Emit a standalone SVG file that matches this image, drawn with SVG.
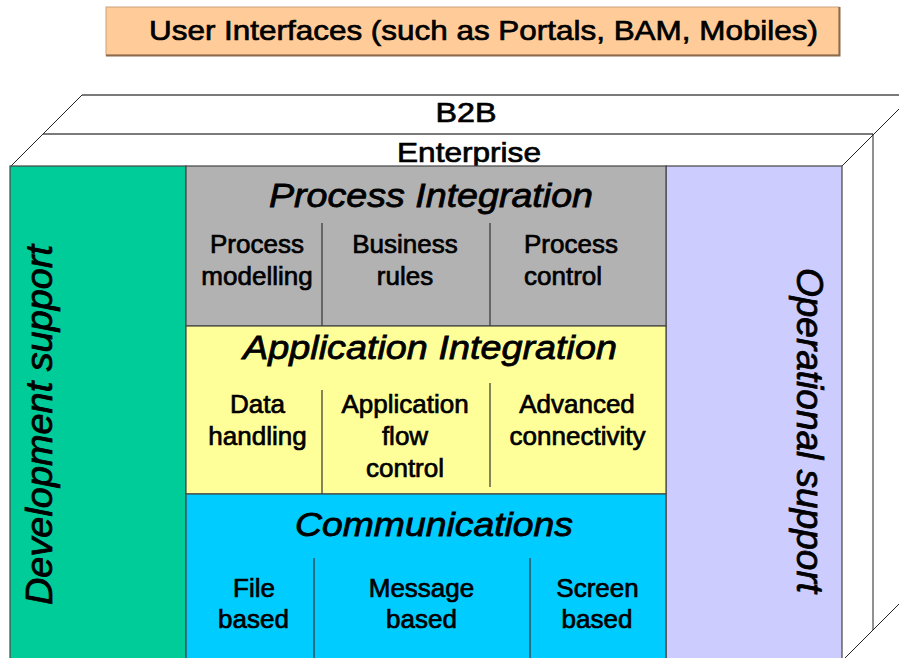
<svg xmlns="http://www.w3.org/2000/svg" width="899" height="658" viewBox="0 0 899 658">
<style>
text { font-family: "Liberation Sans", Arial, sans-serif; fill: #000; stroke: #000; stroke-width: 0.7; }
.body { font-size: 26px; text-anchor: middle; }
.title { font-size: 34px; font-style: italic; text-anchor: middle; stroke-width: 0.8; }
.side { font-size: 37px; font-style: italic; text-anchor: middle; stroke-width: 0.8; }
.hdr { font-size: 28px; text-anchor: middle; }
.edge { stroke: #7a7a7a; stroke-width: 2; fill: none; }
.thin { stroke: #222; stroke-width: 1; fill: none; }
.panel { stroke: #444; stroke-width: 1.2; }
.div { stroke: #333; stroke-width: 1.2; }
</style>

<g id="user-interfaces">
  <rect x="106" y="7" width="733" height="48" fill="#FFCC99" stroke="#C9A27C" stroke-width="1"/>
  <polyline points="106,55.5 839.5,55.5 839.5,7" fill="none" stroke="#8C6A48" stroke-width="2"/>
  <text class="hdr" x="483.5" y="40" textLength="669" lengthAdjust="spacingAndGlyphs">User Interfaces (such as Portals, BAM, Mobiles)</text>
</g>

<g id="box-3d">
  <line class="edge" x1="82" y1="95" x2="899" y2="95"/>
  <line class="edge" x1="43" y1="134" x2="873" y2="134"/>
  <line class="thin" x1="82" y1="95" x2="10" y2="167"/>
  <line class="thin" x1="842" y1="166" x2="899" y2="109"/>
  <line class="thin" x1="873" y1="134" x2="873" y2="630"/>
  <line class="thin" x1="899" y1="604" x2="845" y2="658"/>
</g>

<g id="b2b">
  <text class="hdr" x="466" y="122" textLength="61" lengthAdjust="spacingAndGlyphs">B2B</text>
</g>
<g id="enterprise">
  <text class="hdr" x="469" y="162" textLength="144" lengthAdjust="spacingAndGlyphs">Enterprise</text>
</g>

<g id="development-support">
  <rect class="panel" x="10" y="166" width="176" height="500" fill="#00CC99"/>
  <text class="side" transform="translate(52,425) rotate(-90)" textLength="360" lengthAdjust="spacingAndGlyphs">Development support</text>
</g>

<g id="operational-support">
  <rect class="panel" x="666" y="166" width="176" height="500" fill="#CCCCFF"/>
  <text class="side" transform="translate(797,430.5) rotate(90)" textLength="325" lengthAdjust="spacingAndGlyphs">Operational support</text>
</g>

<g id="process-integration">
  <rect class="panel" x="186" y="166" width="480" height="160" fill="#B2B2B2"/>
  <text class="title" x="431" y="207" textLength="324" lengthAdjust="spacingAndGlyphs">Process Integration</text>
  <line class="div" x1="322" y1="223" x2="322" y2="326"/>
  <line class="div" x1="490" y1="223" x2="490" y2="326"/>
  <text class="body" x="257" y="253">Process</text>
  <text class="body" x="257" y="285">modelling</text>
  <text class="body" x="405" y="253">Business</text>
  <text class="body" x="405" y="285">rules</text>
  <text class="body" x="524" y="253" style="text-anchor:start">Process</text>
  <text class="body" x="524" y="285" style="text-anchor:start">control</text>
</g>

<g id="application-integration">
  <rect class="panel" x="186" y="326" width="480" height="168" fill="#FFFF99"/>
  <text class="title" x="430" y="359" textLength="374" lengthAdjust="spacingAndGlyphs">Application Integration</text>
  <line class="div" x1="322" y1="390" x2="322" y2="494"/>
  <line class="div" x1="490" y1="383" x2="490" y2="487"/>
  <text class="body" x="257.5" y="413">Data</text>
  <text class="body" x="257.5" y="445">handling</text>
  <text class="body" x="405" y="413">Application</text>
  <text class="body" x="405" y="445">flow</text>
  <text class="body" x="405" y="477">control</text>
  <text class="body" x="577" y="413">Advanced</text>
  <text class="body" x="577.5" y="445">connectivity</text>
</g>

<g id="communications">
  <rect class="panel" x="186" y="494" width="480" height="172" fill="#00CCFF"/>
  <text class="title" x="434" y="536" textLength="278" lengthAdjust="spacingAndGlyphs">Communications</text>
  <line class="div" x1="314" y1="558" x2="314" y2="658"/>
  <line class="div" x1="530" y1="558" x2="530" y2="658"/>
  <text class="body" x="254" y="597">File</text>
  <text class="body" x="253.5" y="628">based</text>
  <text class="body" x="421.5" y="597">Message</text>
  <text class="body" x="421.5" y="628">based</text>
  <text class="body" x="597.5" y="597">Screen</text>
  <text class="body" x="597" y="628">based</text>
</g>
</svg>
